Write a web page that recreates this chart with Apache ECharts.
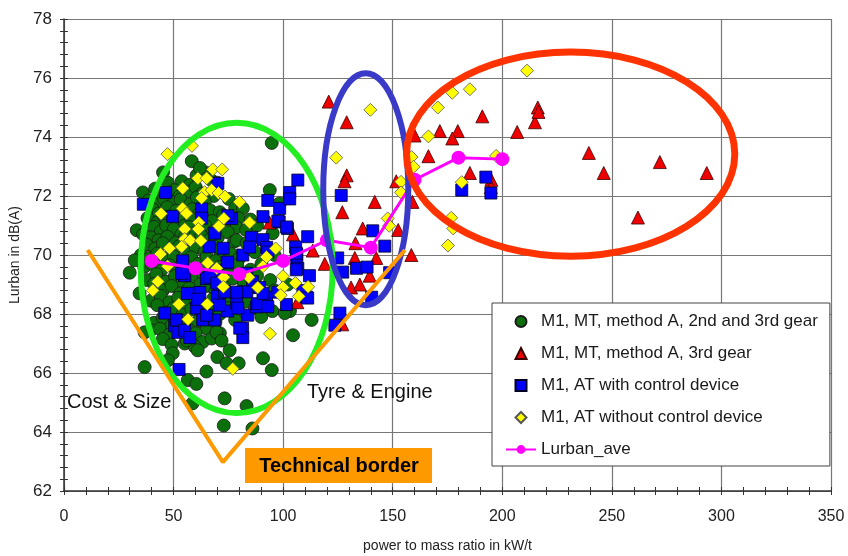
<!DOCTYPE html>
<html>
<head>
<meta charset="utf-8">
<title>Lurban vs power to mass ratio</title>
<script src="https://cdn.jsdelivr.net/npm/echarts/dist/echarts.min.js"></script>
<style>
  html, body { margin: 0; padding: 0; background: #fff; }
  #main { width: 848px; height: 556px; }
</style>
</head>
<body>
<div id="main"></div>
<script>
// values: [power to mass ratio kW/t, Lurban dB(A)]
const mtGear23 = [
  [94.8,73.8],[58.3,73.18],[45.2,72.8],[47.4,72.45],[53.7,72.5],[57.4,72.38],[93.9,72.2],
  [60.5,72.7],[64.5,72.8],[67,72.55],[70,72.45],[62,72.95],
  [36,72.12],[41.6,72.25],[44.1,72.05],[50.3,72.2],[52.6,71.98],[56.2,72.15],[60.1,72.3],[62.9,72.08],[68.3,72.0],
  [38.6,71.85],[42.1,71.7],[45.6,71.9],[50.1,71.78],[53.2,71.88],[57.6,71.72],[60.6,71.95],[64.2,71.8],[66.6,71.52],[75.2,71.9],
  [40.5,71.55],[43.2,71.4],[47.1,71.62],[51.2,71.5],[54.6,71.33],[58.6,71.55],[61.7,71.4],[71.1,71.45],[78.1,71.6],[81.6,71.58],[98.4,71.75],
  [38.1,71.25],[42.6,71.1],[45.7,71.3],[48.2,71.05],[52.1,71.2],[55.2,71.0],[58.1,71.22],[63.1,71.3],[67.6,71.15],[72.6,71.35],[76.1,71.05],[79.6,71.25],[85.1,71.2],
  [41.1,70.95],[44.2,70.8],[46.6,71.0],[50.1,70.88],[53.6,70.7],[57.1,70.95],[60.2,70.76],[64.6,70.98],[68.1,70.8],[75.1,70.9],[78.8,70.94],[83.1,70.85],[88.1,71.0],
  [33.2,70.84],[36.1,70.7],[39.6,70.6],[43.1,70.5],[47.2,70.62],[51.1,70.42],[55.2,70.6],[59.1,70.35],[62.6,70.66],[66.1,70.5],[70.2,70.6],[74.7,70.77],[77.6,70.45],
  [37.6,70.35],[41.6,70.22],[45.1,70.4],[49.1,70.15],[52.6,70.3],[56.1,70.1],[60.1,70.25],[64.1,70.1],[67.6,70.35],[71.1,70.15],[78.8,70.5],[83.3,70.4],[95.2,70.74],
  [35.1,70.0],[39.1,69.9],[42.6,70.05],[46.1,69.85],[50.1,69.95],[54.1,69.75],[58.1,69.92],[61.6,69.7],[65.1,69.95],[69.1,69.8],[76.1,70.05],[80.1,69.9],[87.1,70.1],[96.1,70.0],
  [32.3,69.82],[36.6,69.6],[40.1,69.7],[44.6,69.5],[48.1,69.65],[52.1,69.45],[56.1,69.62],[60.1,69.4],[63.6,69.55],[67.1,69.38],[71.1,69.6],[75.6,69.45],[79.1,69.65],[85.1,69.5],[90.1,69.7],
  [38.1,69.15],[42.1,69.35],[46.6,69.1],[50.6,69.28],[54.1,69.05],[58.1,69.2],[62.1,69.0],[66.1,69.25],[70.1,69.1],[77.1,69.2],[82.1,69.05],[88.1,69.3],[94.1,69.15],
  [30,69.4],[41.1,69.02],[45.1,68.8],[49.1,68.95],[53.1,68.7],[57.1,68.88],[61.6,68.72],[65.1,68.95],[69.1,68.78],[73.1,68.92],[80.1,68.75],[86.1,68.9],[96.1,68.8],[102.1,69.0],
  [39.6,68.45],[44.1,68.62],[48.1,68.4],[52.1,68.55],[56.1,68.35],[60.1,68.5],[64.1,68.3],[68.1,68.52],[72.1,68.4],[76.1,68.55],[83.1,68.42],[92.1,68.5],
  [34.5,68.7],[42.6,68.3],[46.6,68.05],[50.1,68.2],[54.1,67.98],[58.1,68.15],[62.6,67.95],[66.6,68.12],[71.1,68.0],[75.1,68.2],[80.1,68.05],[87.1,68.2],[95.1,68.1],
  [41.1,67.7],[45.1,67.88],[49.1,67.62],[53.1,67.8],[57.1,67.55],[61.1,67.75],[65.1,67.5],[69.1,67.72],[78.1,67.8],[103.1,68.1],
  [39.6,67.45],[43.7,67.5],[48.1,67.3],[53.1,67.4],[57.1,67.2],[60.1,67.35],[63.3,67.05],[67.4,67.17],[71.1,67.35],[90,67.9],[100.7,68.03],[113,67.8],
  [36.8,67.38],[45.1,67.15],[49.1,66.95],[55.1,67.0],[59.6,66.9],[69.6,67.38],[71.9,67.1],[56,67.1],[104.5,67.28],
  [49.6,66.67],[61,66.77],[75.6,66.77],[47.4,66.43],[70,66.54],[90.8,66.5],[36.8,66.2],[74.2,66.33],[79.7,66.33],[65,66.05],[94.8,66.1],
  [56.5,65.76],[60.4,65.63],[73.3,65.14],[58.6,64.97],[83.3,64.88],[72.9,64.22],[86,64.12]
];

const mtGear3 = [
  [93.8,71.1],[104.5,70.7],[113.5,70.15],[119,69.7],[106.5,68.4],[120.8,75.2],[129,74.5],
  [129,72.7],[128,72.5],[127,71.45],[141.8,71.8],[136.3,70.9],[133,70.4],[132.7,69.9],
  [139.5,69.3],[131,68.9],[135,69.0],[142.5,69.9],[158.5,70.0],[151.6,72.5],[159,71.8],
  [152.5,70.85],[127,67.65],[160,74.05],[171.5,74.2],[179.7,74.2],[177.2,73.95],[166.3,73.35],
  [190.9,74.7],[206.8,74.17],[214.9,74.5],[216.2,75.0],[216.5,74.85],[185.2,72.78],[195,72.55],
  [194.8,72.3],[239.5,73.46],[271.9,73.15],[246.3,72.78],[293.3,72.78],[261.9,71.27]
];

const atControl = [
  [46.4,72.12],[36.2,71.72],[49.6,71.31],[62.8,71.56],[62.8,71.25],[66.3,70.28],[54.2,69.8],
  [70.2,72.43],[72.6,70.23],[55.1,69.32],[65,69.2],[69.6,69.48],[74.5,69.73],[83.4,69.38],
  [85.6,70.6],[90.8,70.52],[92.5,70.26],[93,71.85],[98.4,71.58],[98.2,71.12],[103,72.12],
  [106.7,72.54],[103,71.9],[90.8,71.3],[97.6,71.15],[102,70.9],[111.2,70.62],[68.8,70.74],
  [76.5,71.24],[81.6,70.0],[74.7,69.76],[84.7,70.27],[105.7,70.27],[106.2,70.02],[106.2,69.9],
  [106.7,69.55],[86,69.1],[89.3,68.9],[83.4,68.75],[62,68.73],[56.3,68.7],[46,68.03],
  [50.5,67.6],[52,67.38],[60.4,68.2],[63.3,67.8],[68.8,67.8],[74.7,68.1],[78.8,68.36],
  [71,68.75],[78.8,68.74],[81.5,67.52],[81.6,67.2],[83.8,67.96],[87.8,68.24],[92.4,68.56],
  [97.6,68.74],[101.5,68.32],[110.7,68.57],[112,69.3],[55,69.3],[51.3,67.8],[55.1,67.45],
  [57.4,67.2],[52.5,66.12],[61,68.5],[65,67.96],[70,68.6],[66.5,69.25],[53.7,69.38],
  [71,68.3],[79.3,68.2],[88.4,68.35],[93,68.25],[73.3,68.75],[90.8,68.7],[69.7,69.05],
  [80.2,67.52],[101.5,70.95],[93,70.1],[74.8,71.33],
  [126.5,72.02],[140.9,70.82],[146.4,70.3],[106,70.06],[106,69.5],[109,68.8],[111.2,68.54],
  [127.2,69.42],[133.5,69.55],[138.3,69.59],[124.9,69.9],[140.4,68.57],[125.9,68.03],
  [123.6,67.62],[181.5,72.2],[192.5,72.64],[194.8,72.1],[148.6,69.4]
];

const atNoControl = [
  [47.2,73.42],[58.4,73.7],[67.9,72.9],[72.2,72.9],[61.1,72.6],[65.1,72.6],[54.2,72.26],
  [64.2,72.13],[67.4,72.2],[70.5,72.1],[73.5,71.98],[80.1,71.8],[62.8,71.93],[44.3,71.4],
  [54.1,71.58],[55.9,71.41],[61.5,71.1],[61.3,70.88],[55.1,70.88],[55.1,70.54],[57.6,70.5],
  [62.5,70.48],[70.7,70.98],[72.9,71.24],[84.7,71.1],[48.1,70.23],[53.7,70.28],[47.3,69.62],
  [44,70.03],[42.8,69.1],[40.5,68.8],[52.4,68.33],[56.6,67.82],[65.4,68.33],[65.6,69.73],
  [69.7,69.55],[72.9,69.25],[72.7,68.92],[84.3,69.25],[88.4,68.9],[90.8,69.62],[92.4,69.93],
  [96.6,70.22],[99.9,69.28],[99.9,68.9],[98.9,68.64],[105.6,69.05],[111.4,68.92],[107.2,68.6],
  [94,67.33],[77,66.14],
  [124.2,73.3],[139.8,74.92],[153.8,72.48],[153.8,72.12],[147.7,71.24],[148.4,70.99],
  [158.6,73.32],[159.5,72.99],[166.3,74.02],[170.6,75.0],[177.2,75.5],[185.2,75.62],
  [211.3,76.25],[181.5,72.47],[197.2,73.36],[176.7,71.26],[177.6,70.9],[175.2,70.32]
];

const lurbanAve = [
  [40,69.8],[60,69.55],[80,69.35],[100,69.8],[120,70.5],[140,70.25],[160,72.55],[180,73.3],[200,73.25]
];

// orange "technical border" V, in data units
const borderV = [[10.8,70.17],[72.5,62.98],[155.6,70.17]];

// annotation ellipses: centre / radii in data units
const ellipses = [
  { cx: 78.8, cy: 69.56, rx: 43.8, ry: 4.92, color: '#22EE22', width: 6 },
  { cx: 137.7, cy: 72.23, rx: 19.4, ry: 3.93, color: '#3A3AC8', width: 6 },
  { cx: 231.2, cy: 73.42, rx: 74.9, ry: 3.46, color: '#FF3300', width: 7 }
];

const legendNames = [
  'M1, MT, method A, 2nd and 3rd gear',
  'M1, MT, method A, 3rd gear',
  'M1, AT with control device',
  'M1, AT without control device',
  'Lurban_ave'
];
// square-aspect legend icons (built-in triangle/rect/diamond stretch to itemWidth)
const legendIcons = [
  'circle',
  'path://M5,0L10,10L0,10Z',
  'path://M0,0L10,0L10,10L0,10Z',
  'path://M5,0L10,5L5,10L0,5Z',
  null
];

const font = 'Liberation Sans, Arial, sans-serif';
const chart = echarts.init(document.getElementById('main'));

const xMain = {
  type: 'value', min: 0, max: 350, interval: 50, position: 'bottom',
  name: 'power to mass ratio in kW/t', nameLocation: 'middle', nameGap: 48,
  nameTextStyle: { fontSize: 14, color: '#222', fontFamily: font },
  axisLine: { show: true, onZero: false, lineStyle: { color: '#333', width: 1.5 } },
  axisTick: { show: true, length: 4, lineStyle: { color: '#333' } },
  minorTick: { show: true, splitNumber: 5, length: 4, lineStyle: { color: '#333' } },
  axisLabel: { fontSize: 16, color: '#222', margin: 18, fontFamily: font },
  splitLine: { show: true, lineStyle: { color: '#777', width: 1.2 } }
};
const yMain = {
  type: 'value', min: 62, max: 78, interval: 2, position: 'left',
  name: 'Lurban in dB(A)', nameLocation: 'middle', nameGap: 38, nameRotate: 90,
  nameTextStyle: { fontSize: 14, color: '#222', fontFamily: font },
  axisLine: { show: true, onZero: false, lineStyle: { color: '#333', width: 1.5 } },
  axisTick: { show: true, length: 4, lineStyle: { color: '#333' } },
  minorTick: { show: true, splitNumber: 5, length: 4, lineStyle: { color: '#333' } },
  axisLabel: { fontSize: 17, color: '#222', margin: 12, fontFamily: font },
  splitLine: { show: true, lineStyle: { color: '#777', width: 1.2 } }
};

option = {
  animation: false,
  backgroundColor: '#fff',
  grid: { left: 64, right: 17, top: 19, bottom: 65, containLabel: false, outerBoundsMode: 'none' },
  xAxis: [
    xMain,
    // second copy: ticks pointing inward so they cross the axis line
    { type: 'value', min: 0, max: 350, interval: 50, position: 'bottom',
      axisLine: { show: false }, axisLabel: { show: false }, splitLine: { show: false },
      axisTick: { show: true, inside: true, length: 4, lineStyle: { color: '#333' } },
      minorTick: { show: true, splitNumber: 5, length: 4, lineStyle: { color: '#333' } } }
  ],
  yAxis: [
    yMain,
    { type: 'value', min: 62, max: 78, interval: 2, position: 'left',
      axisLine: { show: false }, axisLabel: { show: false }, splitLine: { show: false },
      axisTick: { show: true, inside: true, length: 4, lineStyle: { color: '#333' } },
      minorTick: { show: true, splitNumber: 5, length: 4, lineStyle: { color: '#333' } } }
  ],
  legend: {
    data: legendNames.map(function (n, i) {
      return legendIcons[i] ? { name: n, icon: legendIcons[i] } : { name: n };
    }),
    orient: 'vertical',
    left: 492, top: 303,
    padding: [10, 12, 8, 13],
    itemWidth: 30, itemHeight: 11, itemGap: 15,
    symbolKeepAspect: true,
    backgroundColor: '#fff',
    borderColor: '#444', borderWidth: 1,
    textStyle: { fontSize: 17, color: '#1a1a1a', fontFamily: font }
  },
  series: [
    { name: legendNames[0], type: 'scatter', data: mtGear23, symbol: 'circle', symbolSize: 13,
      itemStyle: { color: '#0B700B', borderColor: '#1a1a1a', borderWidth: 0.8, opacity: 1 } },
    { name: legendNames[1], type: 'scatter', data: mtGear3, symbol: 'triangle', symbolSize: 13,
      itemStyle: { color: '#EE0000', borderColor: '#3a0000', borderWidth: 0.8, opacity: 1 } },
    { name: legendNames[2], type: 'scatter', data: atControl, symbol: 'rect', symbolSize: 12,
      itemStyle: { color: '#0000FF', borderColor: '#000022', borderWidth: 0.8, opacity: 1 } },
    { name: legendNames[3], type: 'scatter', data: atNoControl, symbol: 'diamond', symbolSize: 13,
      itemStyle: { color: '#FFFF00', borderColor: '#555', borderWidth: 0.8, opacity: 1 } },
    { name: legendNames[4], type: 'line', data: lurbanAve, symbol: 'circle', symbolSize: 14,
      itemStyle: { color: '#FF00FF' }, lineStyle: { color: '#FF00FF', width: 3 } },
    { name: 'border', type: 'line', data: borderV, symbol: 'none', silent: true, z: 20,
      lineStyle: { color: '#FF9900', width: 4 } }
  ]
};
chart.setOption(option);

// ellipses and text notes go on top once the grid exists
const shapes = ellipses.map(function (e) {
  const c = chart.convertToPixel({ gridIndex: 0 }, [e.cx, e.cy]);
  const r = chart.convertToPixel({ gridIndex: 0 }, [e.cx + e.rx, e.cy + e.ry]);
  return {
    type: 'ellipse', z: 15, silent: true,
    shape: { cx: c[0], cy: c[1], rx: Math.abs(r[0] - c[0]), ry: Math.abs(c[1] - r[1]) },
    style: { fill: null, stroke: e.color, lineWidth: e.width }
  };
});
shapes.push(
  { type: 'text', z: 30, x: 67, y: 402,
    style: { text: 'Cost & Size', font: '20px ' + font, fill: '#111', textVerticalAlign: 'middle' } },
  { type: 'text', z: 30, x: 307, y: 392,
    style: { text: 'Tyre & Engine', font: '20px ' + font, fill: '#111', textVerticalAlign: 'middle' } },
  { type: 'rect', z: 30, shape: { x: 245, y: 448, width: 187, height: 35 },
    style: { fill: '#FF9900' } },
  { type: 'text', z: 31, x: 339, y: 466,
    style: { text: 'Technical border', font: 'bold 20px ' + font, fill: '#000',
             textAlign: 'center', textVerticalAlign: 'middle' } }
);
chart.setOption({ graphic: shapes });
</script>
</body>
</html>
